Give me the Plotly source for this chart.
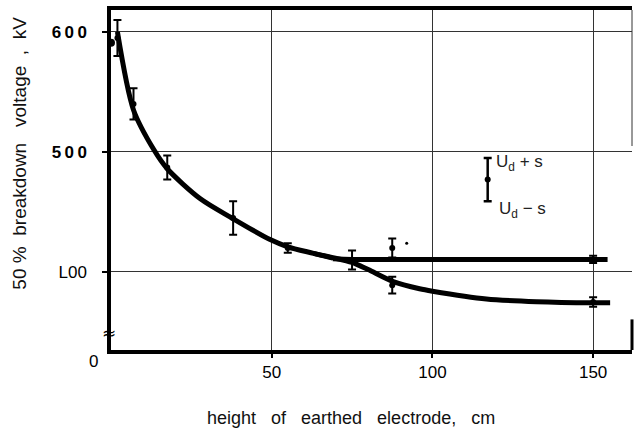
import plotly.graph_objects as go

# Measured 50 % breakdown voltages (kV) with standard deviation s
height_cm = [2, 7, 17.5, 38, 55, 75, 87.5, 87.5, 150, 150]
u50_kv = [595, 540, 487, 445, 420, 410, 420, 389, 410.5, 375]
s_kv = [15, 13, 10, 14, 4, 8, 8, 7, 3, 4]

# Point at zero height (no spread drawn) and a stray single point
zero_point_x = [0]
zero_point_y = [591]
stray_x = [92]
stray_y = [424]

# Fitted curves: common descending part, flat branch and lower branch
fit_desc_x = [2, 7, 13.3, 17.5, 27.8, 37.6, 49.5, 55, 63, 69]
fit_desc_y = [600, 535, 502, 486, 461, 445, 427, 421, 415.5, 411.5]
fit_flat_x = [69, 75, 100, 154.5]
fit_flat_y = [411, 410.5, 410.5, 410.5]
fit_low_x = [63, 69, 75, 80, 87.8, 96, 100, 116.8, 132.4, 150, 155.3]
fit_low_y = [415.5, 412, 408, 402, 392, 386, 384, 377.5, 375.3, 374.4, 374.4]

# Key showing the meaning of the error bars
key_x = [117.2]
key_y = [477]
key_s = [18]

x_tickvals = [50, 100, 150]
x_ticktext = ["50", "100", "150"]
y_tickvals = [400, 500, 600]
y_ticktext = ["<span style='font-size:17px'>L00</span>",
              "<b>5\u20090\u20090</b>", "<b>6\u20090\u20090</b>"]

INK = "black"
SANS = "Liberation Sans, Arial, sans-serif"
fig = go.Figure()

for cx, cy in [(fit_desc_x, fit_desc_y), (fit_flat_x, fit_flat_y), (fit_low_x, fit_low_y)]:
    fig.add_trace(go.Scatter(x=cx, y=cy, mode="lines",
                             line=dict(color=INK, width=5, shape="spline", smoothing=0.8),
                             hoverinfo="skip", showlegend=False))

fig.add_trace(go.Scatter(
    x=height_cm, y=u50_kv, mode="markers",
    marker=dict(color=INK, size=6),
    error_y=dict(type="data", array=s_kv, visible=True, color=INK, thickness=2, width=4),
    cliponaxis=False, showlegend=False))

fig.add_trace(go.Scatter(x=zero_point_x, y=zero_point_y, mode="markers",
                         marker=dict(color=INK, size=8), cliponaxis=False, showlegend=False))
fig.add_trace(go.Scatter(x=stray_x, y=stray_y, mode="markers",
                         marker=dict(color=INK, size=3), showlegend=False))

fig.add_trace(go.Scatter(
    x=key_x, y=key_y, mode="markers",
    marker=dict(color=INK, size=6),
    error_y=dict(type="data", array=key_s, visible=True, color=INK, thickness=2.5, width=4),
    showlegend=False))

fig.add_annotation(x=key_x[0] + 2, y=key_y[0] + key_s[0] - 4, xref="x", yref="y",
                   text="U<sub>d</sub> + s", showarrow=False, xanchor="left", yanchor="middle",
                   font=dict(family=SANS, size=17, color="#222"))
fig.add_annotation(x=key_x[0] + 3, y=key_y[0] - key_s[0] - 7, xref="x", yref="y",
                   text="U<sub>d</sub> − s", showarrow=False, xanchor="left", yanchor="middle",
                   font=dict(family=SANS, size=17, color="#222"))

# Axis titles
fig.add_annotation(x=-0.175, y=0.58, xref="paper", yref="paper", textangle=-90,
                   xanchor="center", yanchor="middle",
                   text="50\u00a0%\u00a0\u00a0breakdown\u00a0\u00a0\u00a0voltage\u00a0\u00a0,\u00a0\u00a0kV",
                   showarrow=False,
                   font=dict(family=SANS, size=19, color="#111"))
fig.add_annotation(x=0.46, y=-0.2, xref="paper", yref="paper",
                   xanchor="center", yanchor="middle",
                   text="height\u00a0\u00a0\u00a0of\u00a0\u00a0\u00a0earthed\u00a0\u00a0\u00a0electrode,\u00a0\u00a0\u00a0cm",
                   showarrow=False,
                   font=dict(family=SANS, size=18, color="#111"))

# Origin label and axis break mark
fig.add_annotation(x=-0.033, y=-0.035, xref="paper", yref="paper", text="0", showarrow=False,
                   xanchor="center", yanchor="middle",
                   font=dict(family=SANS, size=17, color=INK))
fig.add_annotation(x=0, y=0.05, xref="paper", yref="paper", text="≈", showarrow=False,
                   xanchor="center", yanchor="middle", xshift=-2,
                   font=dict(family="DejaVu Sans, sans-serif", size=17, color=INK))

# Right-hand frame pieces
fig.add_shape(type="line", xref="paper", yref="paper", x0=1, x1=1, y0=1, y1=0.6,
              line=dict(color="#333", width=1))
fig.add_shape(type="line", xref="paper", yref="paper", x0=1, x1=1, y0=0.09, y1=0,
              line=dict(color=INK, width=3))

fig.update_xaxes(range=[0, 162.1], tickvals=x_tickvals, ticktext=x_ticktext,
                 showline=True, linecolor=INK, linewidth=3.5, mirror=True,
                 ticks="outside", ticklen=4, tickcolor=INK, tickwidth=2,
                 ticklabelstandoff=0, layer="below traces",
                 tickfont=dict(family=SANS, size=17, color=INK),
                 showgrid=True, gridcolor="#333", gridwidth=1, zeroline=False)
fig.update_yaxes(range=[335, 618.3], tickvals=y_tickvals, ticktext=y_ticktext,
                 showline=True, linecolor=INK, linewidth=3.5,
                 ticks="outside", ticklen=5, tickcolor=INK, tickwidth=2,
                 ticklabelstandoff=12, layer="below traces",
                 tickfont=dict(family=SANS, size=17, color=INK),
                 showgrid=True, gridcolor="#333", gridwidth=1, zeroline=False)

fig.update_layout(width=634, height=430, margin=dict(l=111, r=2, t=10, b=80),
                  plot_bgcolor="white", paper_bgcolor="white", showlegend=False)

fig.write_html("out.html")
